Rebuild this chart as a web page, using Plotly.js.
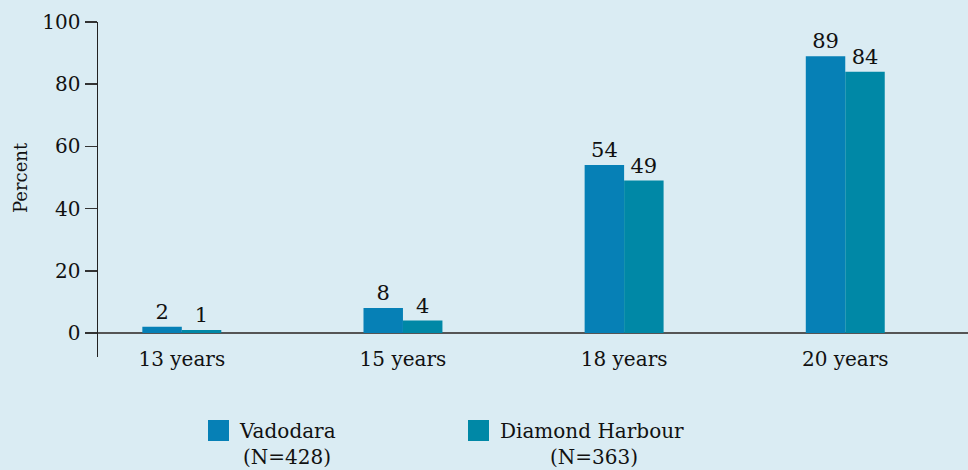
<!DOCTYPE html>
<html>
<head>
<meta charset="utf-8">
<script src="https://cdn.plot.ly/plotly-3.0.1.min.js"></script>
<style>
html,body{margin:0;padding:0;background:#daecf3;}
#chart{width:968px;height:470px;}
</style>
</head>
<body>
<div id="chart"></div>
<script>
const categories = ["13 years", "15 years", "18 years", "20 years"];
const seriesNames = ["Vadodara", "Diamond Harbour"];
const seriesN = ["(N=428)", "(N=363)"];
const vadodara = [2, 8, 54, 89];
const diamondHarbour = [1, 4, 49, 84];
const yTicks = [0, 20, 40, 60, 80, 100];
const yTitle = "Percent";
const colors = ["#0680b6", "#0088a6"];

const FONT = "DejaVu Serif, Liberation Serif, serif";
const L = 98, T = 22, W = 968, H = 470, B = 113, R = 0;
const pw = W - L - R, ph = H - T - B;
const px = x => (x - L) / pw;
const py = y => (H - B - y) / ph;

const values = [vadodara, diamondHarbour];
const traces = values.map((v, i) => ({
  type: "bar",
  name: seriesNames[i],
  x: categories,
  y: v,
  marker: {color: colors[i], line: {width: 0}},
  texttemplate: "%{y}",
  textposition: "outside",
  textfont: {family: FONT, size: 21, color: "#111"},
  cliponaxis: false,
  showlegend: false,
  hoverinfo: "x+y+name"
}));

// custom legend (squares + names)
const legendSquareX = [208, 468];
const legendTextX = [237, 498];
const legendNX = [287, 594];
const shapes = [];
const annotations = [];
seriesNames.forEach((n, i) => {
  shapes.push({
    type: "rect", xref: "paper", yref: "paper",
    x0: px(legendSquareX[i]), x1: px(legendSquareX[i] + 21),
    y0: py(441), y1: py(420),
    fillcolor: colors[i], line: {width: 0}
  });
  annotations.push({
    xref: "paper", yref: "paper", x: px(legendTextX[i]), y: py(431),
    xanchor: "left", yanchor: "middle", showarrow: false,
    text: n, font: {family: FONT, size: 20, color: "#111"}
  });
  annotations.push({
    xref: "paper", yref: "paper", x: px(legendNX[i]), y: py(457),
    xanchor: "center", yanchor: "middle", showarrow: false,
    text: seriesN[i], font: {family: FONT, size: 20, color: "#111"}
  });
});
annotations.push({
  xref: "paper", yref: "paper", x: px(20), y: py(178),
  xanchor: "center", yanchor: "middle", showarrow: false, textangle: -90,
  text: yTitle, font: {family: FONT, size: 18, color: "#111"}
});

const layout = {
  width: W, height: H,
  margin: {l: L, r: R, t: T, b: B, pad: 0},
  paper_bgcolor: "#daecf3",
  plot_bgcolor: "#daecf3",
  barmode: "group",
  bargap: 0.643,
  bargroupgap: 0,
  font: {family: FONT, color: "#111"},
  xaxis: {
    type: "category",
    range: [-0.379, 3.555],
    showline: false, showgrid: false, zeroline: false,
    ticks: "", anchor: "free", position: py(345),
    tickfont: {family: FONT, size: 20, color: "#111"},
    fixedrange: true
  },
  yaxis: {
    range: [-7.72, 100],
    tickvals: yTicks,
    showline: true, linecolor: "#222", linewidth: 1.5,
    ticks: "outside", ticklen: 12, tickwidth: 1.5, tickcolor: "#333",
    showgrid: false,
    zeroline: true, zerolinecolor: "#555", zerolinewidth: 2,
    tickfont: {family: FONT, size: 20, color: "#111"},
    automargin: false,
    fixedrange: true
  },
  shapes: shapes,
  annotations: annotations
};

Plotly.newPlot("chart", traces, layout, {displayModeBar: false, staticPlot: true});
</script>
</body>
</html>
